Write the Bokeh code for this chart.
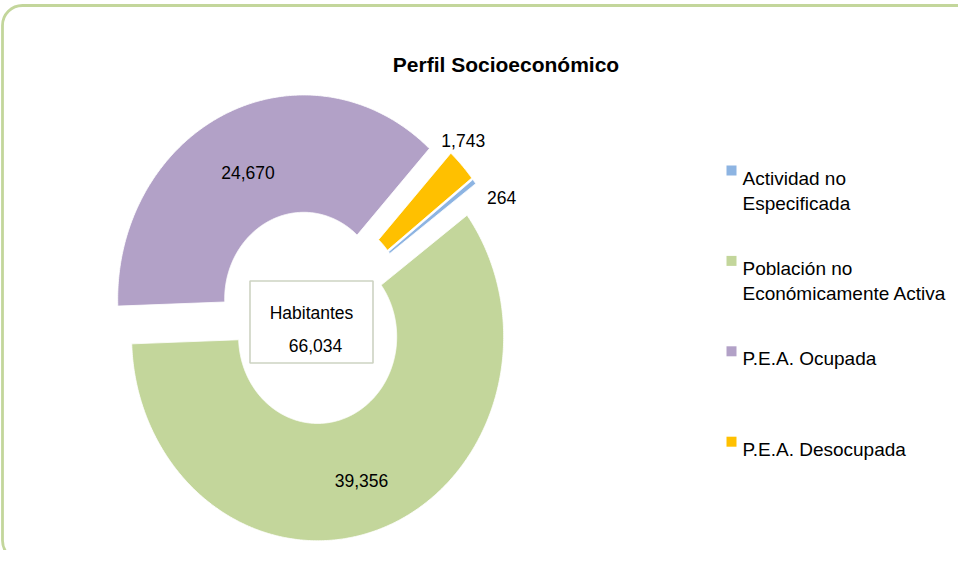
import numpy as np
from bokeh.plotting import figure
from bokeh.models import Range1d, BoxAnnotation
from bokeh.core.properties import value
from bokeh.embed import file_html
from bokeh.resources import INLINE

# ---------------- data ----------------
title_text = "Perfil Socioeconómico"
categories = ["Actividad no Especificada", "Población no Económicamente Activa",
              "P.E.A. Ocupada", "P.E.A. Desocupada"]
legend_lines = [["Actividad no", "Especificada"],
                ["Población no", "Económicamente Activa"],
                ["P.E.A. Ocupada"],
                ["P.E.A. Desocupada"]]
values = [264, 39356, 24670, 1743]
total_label = "Habitantes"
total_value = 66034
colors = ["#8DB4E2", "#C3D69B", "#B2A1C7", "#FFC000"]

# ---------------- layout ----------------
W, H = 958, 550
FONT = "Liberation Sans"
CX, CY = 311.0, 317.0      # donut centre (screen px)
RX, RY = 186.0, 204.0      # outer radii
HOLE = 0.425               # inner radius ratio
EXPLODE = 0.10             # explosion distance (fraction of radius)
START = 52.0               # angle of first slice (clockwise from 12 o'clock)
label_r = [1.096, 0.715, 0.715, 1.115]
label_da = [6.6, 0.0, 0.0, -5.5]
LABEL_FS = 17.5
LEGEND_FS = 19.0

p = figure(width=W, height=H, x_range=Range1d(0, W), y_range=Range1d(H, 0),
           x_axis_type=None, y_axis_type=None, toolbar_location=None,
           output_backend="svg", min_border=0, outline_line_color=None,
           background_fill_color="white", border_fill_color="white")

# outer rounded border
p.add_layout(BoxAnnotation(left=2, right=982, top=5, bottom=560, border_radius=20,
                           fill_color=None, fill_alpha=0, line_color="#C3D69B",
                           line_width=2.8, line_alpha=1.0))

# ---------------- slices ----------------
vals = np.array(values, dtype=float)
frac = vals / vals.sum()
ends = START + 360.0 * np.cumsum(frac)
starts = ends - 360.0 * frac
mids = (starts + ends) / 2.0

xs, ys, lx, ly = [], [], [], []
for i, (a0, a1, m) in enumerate(zip(starts, ends, mids)):
    mr = np.radians(m)
    ox = CX + EXPLODE * RX * np.sin(mr)
    oy = CY - EXPLODE * RY * np.cos(mr)
    t = np.radians(np.linspace(a0, a1, max(6, int((a1 - a0) * 2))))
    outer_x = ox + RX * np.sin(t)
    outer_y = oy - RY * np.cos(t)
    inner_x = ox + HOLE * RX * np.sin(t[::-1])
    inner_y = oy - HOLE * RY * np.cos(t[::-1])
    xs.append(list(np.concatenate([outer_x, inner_x])))
    ys.append(list(np.concatenate([outer_y, inner_y])))
    la = np.radians(m + label_da[i])
    lx.append(ox + label_r[i] * RX * np.sin(la))
    ly.append(oy - label_r[i] * RY * np.cos(la) + 0.36 * LABEL_FS)

p.patches(xs=xs, ys=ys, fill_color=colors, line_color="white", line_width=0.8)

p.text(x=lx, y=ly, text=[f"{v:,}" for v in values], text_font=value(FONT),
       text_font_size=f"{LABEL_FS}px", text_align="center",
       text_baseline="alphabetic", text_color="#000000")

# centre box (drawn as a glyph so the text sits on top of it)
BW, BH = 123.0, 82.0
p.quad(left=[CX - BW / 2], right=[CX + BW / 2],
       top=[CY + 4.5 - BH / 2], bottom=[CY + 4.5 + BH / 2],
       fill_color="white", line_color="#CDD3C2", line_width=1.6)
p.text(x=[CX, CX + 4], y=[CY - 4.7, CY + 27.7],
       text=[total_label, f"{total_value:,}"], text_font=value(FONT),
       text_font_size=f"{LABEL_FS}px", text_align="center",
       text_baseline="alphabetic", text_color="#000000")

# title
p.text(x=[505.5], y=[64], text=[title_text], text_font=value(FONT),
       text_font_size="21px", text_font_style="bold", text_align="center",
       text_baseline="alphabetic", text_color="#000000")

# ---------------- legend ----------------
LEG_X, LEG_TOP, LEG_STEP, LINE_GAP = 726.0, 177.5, 90.4, 25.5
sq_x, sq_y, tx, ty, tt = [], [], [], [], []
for i, lines in enumerate(legend_lines):
    base = LEG_TOP + i * LEG_STEP
    sq_x.append(LEG_X + 5)
    sq_y.append(base - 7.5)
    for j, line in enumerate(lines):
        tx.append(LEG_X + 16)
        ty.append(base + j * LINE_GAP)
        tt.append(line)
p.rect(x=sq_x, y=sq_y, width=10, height=10, fill_color=colors, line_color=None)
p.text(x=tx, y=ty, text=tt, text_font=value(FONT), text_font_size=f"{LEGEND_FS}px",
       text_align="left", text_baseline="alphabetic", text_color="#000000")

open("out.html", "w").write(file_html(p, INLINE))
